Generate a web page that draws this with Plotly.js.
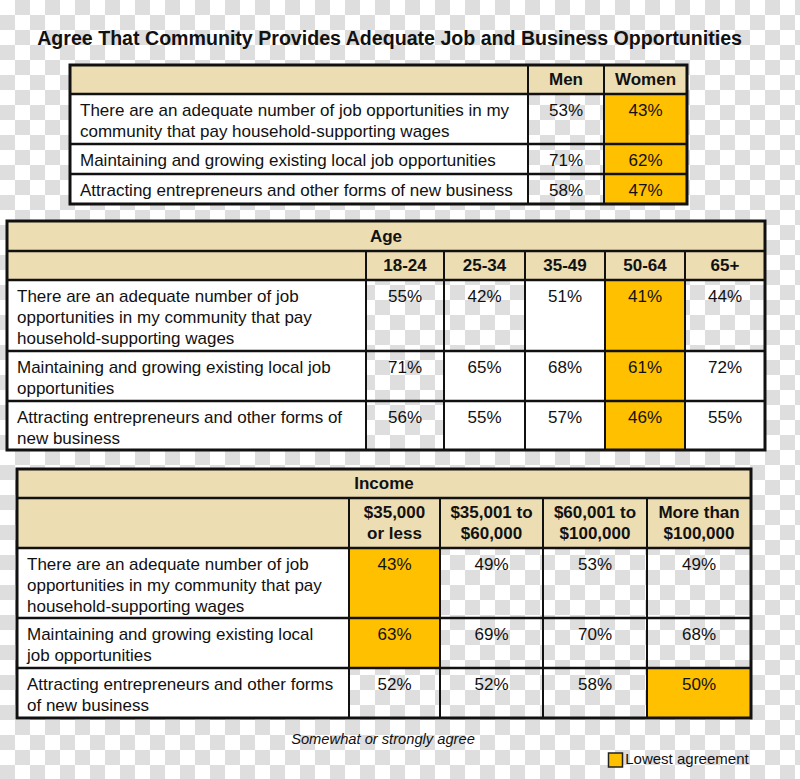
<!DOCTYPE html>
<html>
<head>
<meta charset="utf-8">
<script src="https://cdn.plot.ly/plotly-3.0.1.min.js"></script>
<style>html,body{margin:0;padding:0;background:#fff;}#chart{width:800px;height:779px;}</style>
</head>
<body>
<div id="chart"></div>
<script>
// ---------------- DATA ----------------
const chartTitle = "Agree That Community Provides Adequate Job and Business Opportunities";
const footnote = "Somewhat or strongly agree";
const legendLabel = "Lowest agreement";

const genderCats = ["Men", "Women"];
const genderLabels = [
  "There are an adequate number of job opportunities in my<br>community that pay household-supporting wages",
  "Maintaining and growing existing local job opportunities",
  "Attracting entrepreneurs and other forms of new business"
];
const genderValues = [
  [53, 43],
  [71, 62],
  [58, 47]
];

const ageTitle = "Age";
const ageCats = ["18-24", "25-34", "35-49", "50-64", "65+"];
const ageLabels = [
  "There are an adequate number of job<br>opportunities in my community that pay<br>household-supporting wages",
  "Maintaining and growing existing local job<br>opportunities",
  "Attracting entrepreneurs and other forms of<br>new business"
];
const ageValues = [
  [55, 42, 51, 41, 44],
  [71, 65, 68, 61, 72],
  [56, 55, 57, 46, 55]
];

const incomeTitle = "Income";
const incomeCats = ["$35,000<br>or less", "$35,001 to<br>$60,000", "$60,001 to<br>$100,000", "More than<br>$100,000"];
const incomeLabels = [
  "There are an adequate number of job<br>opportunities in my community that pay<br>household-supporting wages",
  "Maintaining and growing existing local<br>job opportunities",
  "Attracting entrepreneurs and other forms<br>of new business"
];
const incomeValues = [
  [43, 49, 53, 49],
  [63, 69, 70, 68],
  [52, 52, 58, 50]
];

// ---------------- LAYOUT / STYLE ----------------
const W = 800, H = 779;
const FONT = "Liberation Sans, Arial, sans-serif";
const TAN = "#ecddb3";
const GOLD = "#ffc000";
const INK = "#111111";
const CHECK = "#dedede";
const LINE_H = 21;
const FS = 17;
const FIRST = 18;

const geomGender = { cols: [70, 528, 604, 687], rows: [65, 94, 144, 174, 204], span: false,
  white: null };
const geomAge = { cols: [7, 366, 444, 525, 605, 685, 765], rows: [221, 251, 280, 351, 401, 450], span: true,
  white: [[false, false, true, false, false], [false, true, true, false, true], [false, true, true, false, true]] };
const geomIncome = { cols: [17, 349, 440, 543, 647, 751], rows: [469, 498, 548, 618, 668, 718], span: true,
  white: null };

const shapes = [];
const traces = [];

// checkerboard (transparency) background
(function () {
  const s = 15;
  let p = "";
  for (let r = 0; r * s < H; r++) {
    for (let c = 0; c * s < W; c++) {
      if ((r + c) % 2 === 1) {
        const x0 = c * s, y0 = r * s, x1 = x0 + s, y1 = y0 + s;
        p += "M" + x0 + "," + y0 + "H" + x1 + "V" + y1 + "H" + x0 + "Z";
      }
    }
  }
  shapes.push({ type: "path", xref: "x", yref: "y", path: p, fillcolor: CHECK, line: { width: 0 }, layer: "below" });
})();

function rect(x0, y0, x1, y1, fill) {
  shapes.push({ type: "rect", xref: "x", yref: "y", x0: x0, x1: x1, y0: y0, y1: y1,
    fillcolor: fill, line: { width: 0 }, layer: "below" });
}
function seg(x0, y0, x1, y1, w) {
  shapes.push({ type: "line", xref: "x", yref: "y", x0: x0, x1: x1, y0: y0, y1: y1,
    line: { color: INK, width: w }, layer: "below" });
}
function textTrace(xs, ys, texts, pos, size, bold, italic) {
  traces.push({
    type: "scatter", mode: "text", x: xs, y: ys, text: texts, textposition: pos,
    textfont: { family: FONT, size: size, color: INK, weight: bold ? 700 : 400, style: italic ? "italic" : "normal" },
    hoverinfo: "skip", showlegend: false, cliponaxis: false
  });
}

function drawTable(g, title, cats, labels, values) {
  const cols = g.cols, rows = g.rows;
  const L = cols[0], R = cols[cols.length - 1];
  let r0 = 0;
  if (g.span) {
    rect(L, rows[0], R, rows[1], TAN);
    textTrace([(L + R) / 2], [(rows[0] + rows[1]) / 2 + 1.5], [title], "middle center", FS, true);
    r0 = 1;
  }
  const hTop = rows[r0], hBot = rows[r0 + 1];
  rect(L, hTop, R, hBot, TAN);
  // header labels (vertically centred)
  const hx = [], hy = [], ht = [];
  cats.forEach((c, j) => {
    const lines = c.split("<br>");
    const cx = (cols[j + 1] + cols[j + 2]) / 2;
    const mid = (hTop + hBot) / 2 + 1.5;
    lines.forEach((ln, k) => {
      hx.push(cx); hy.push(mid + (k - (lines.length - 1) / 2) * LINE_H); ht.push(ln);
    });
  });
  textTrace(hx, hy, ht, "middle center", FS, true);

  // data rows
  const lx = [], ly = [], lt = [], vx = [], vy = [], vt = [];
  values.forEach((rowVals, i) => {
    const top = rows[r0 + 1 + i], bot = rows[r0 + 2 + i];
    rect(L, top, cols[1], bot, "#ffffff");
    const minV = Math.min.apply(null, rowVals);
    rowVals.forEach((v, j) => {
      const x0 = cols[j + 1], x1 = cols[j + 2];
      if (v === minV) rect(x0, top, x1, bot, GOLD);
      else if (g.white && g.white[i][j]) rect(x0, top, x1, bot, "#ffffff");
      vx.push((x0 + x1) / 2); vy.push(top + FIRST); vt.push(v + "%");
    });
    labels[i].split("<br>").forEach((ln, k) => {
      lx.push(L + 10); ly.push(top + FIRST + k * LINE_H); lt.push(ln);
    });
  });
  textTrace(lx, ly, lt, "middle right", FS, false);
  textTrace(vx, vy, vt, "middle center", FS, false);

  // grid lines
  for (let k = r0 + 1; k < rows.length - 1; k++) seg(L, rows[k], R, rows[k], 2.5);
  if (g.span) seg(L, rows[1], R, rows[1], 2.5);
  for (let j = 1; j < cols.length - 1; j++) seg(cols[j], hTop, cols[j], rows[rows.length - 1], 2);
  shapes.push({ type: "rect", xref: "x", yref: "y", x0: L, x1: R, y0: rows[0], y1: rows[rows.length - 1],
    line: { color: INK, width: 3 }, fillcolor: "rgba(0,0,0,0)", layer: "below" });
}

drawTable(geomGender, null, genderCats, genderLabels, genderValues);
drawTable(geomAge, ageTitle, ageCats, ageLabels, ageValues);
drawTable(geomIncome, incomeTitle, incomeCats, incomeLabels, incomeValues);

// footnote
textTrace([383], [740], [footnote], "middle center", 14.7, false, true);

// legend key
traces.push({
  type: "scatter", mode: "markers+text", x: [615.5], y: [760], text: [legendLabel],
  textposition: "middle right",
  marker: { symbol: "square", size: 14, color: GOLD, line: { color: "#222", width: 1.5 } },
  textfont: { family: FONT, size: 15, color: INK },
  hoverinfo: "skip", showlegend: false, cliponaxis: false
});

const layout = {
  width: W, height: H,
  margin: { l: 0, r: 0, t: 0, b: 0, pad: 0 },
  paper_bgcolor: "#ffffff", plot_bgcolor: "#ffffff",
  title: { text: chartTitle, x: 0.487, xanchor: "center", y: 1 - 38 / H, yanchor: "middle",
    font: { family: FONT, size: 19.6, color: INK, weight: 700 } },
  xaxis: { range: [0, W], visible: false, fixedrange: true },
  yaxis: { range: [H, 0], visible: false, fixedrange: true },
  shapes: shapes,
  showlegend: false
};

Plotly.newPlot("chart", traces, layout, { staticPlot: true, displayModeBar: false });
</script>
</body>
</html>
